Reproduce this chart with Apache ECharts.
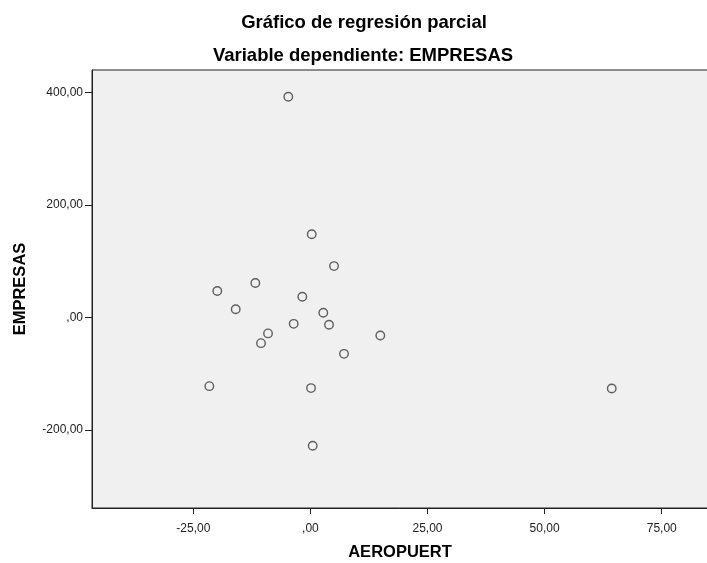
<!DOCTYPE html>
<html>
<head>
<meta charset="utf-8">
<script src="https://cdn.jsdelivr.net/npm/echarts@6/dist/echarts.min.js"></script>
<style>
  html, body { margin: 0; padding: 0; background: #fff; }
  #chart { width: 707px; height: 563px; }
</style>
</head>
<body>
<div id="chart"></div>
<script>
// Partial regression residuals: AEROPUERT (x) vs EMPRESAS (y)
const aeropuert = [-4.72, 0.28, 5.04, -11.76, -19.88, -1.73, -15.95, 2.75, -3.57, 3.97,
                   -9.05, 14.92, -10.55, 7.17, -21.58, 0.13, 0.49, 64.33];
const empresas  = [392.1, 147.7, 91.2, 61.1, 46.9, 36.8, 14.4, 8.3, -11.4, -13.1,
                   -28.4, -32.0, -45.7, -64.7, -122.1, -125.6, -228.1, -126.2];

const xTicks = [-25, 0, 25, 50, 75];
const yTicks = [-200, 0, 200, 400];

const titleText = 'Gráfico de regresión parcial';
const subtitleText = 'Variable dependiente: EMPRESAS';
const xName = 'AEROPUERT';
const yName = 'EMPRESAS';

// Spanish number style: comma decimal, no leading zero (",00")
function fmt(v) {
  let s = Math.abs(v).toFixed(2).replace('.', ',');
  if (s.startsWith('0,')) s = s.slice(1);
  return (v < 0 ? '-' : '') + s;
}

const points = aeropuert.map((x, i) => [x, empresas[i]]);
const font = 'Liberation Sans, Arial, sans-serif';

const chart = echarts.init(document.getElementById('chart'), null, { renderer: 'canvas' });
chart.setOption({
  animation: false,
  backgroundColor: '#ffffff',
  textStyle: { fontFamily: font },
  title: [
    {
      text: titleText, left: 359, top: 8, textAlign: 'center',
      textStyle: { fontSize: 18.5, fontWeight: 'bold', color: '#000', fontFamily: font }
    },
    {
      text: subtitleText, left: 358, top: 41, textAlign: 'center',
      textStyle: { fontSize: 18.5, fontWeight: 'bold', color: '#000', fontFamily: font }
    }
  ],
  grid: {
    show: true, left: 92, right: -1, top: 70, bottom: 55,
    outerBoundsMode: 'none', containLabel: false,
    backgroundColor: '#f0f0f0', borderColor: '#222', borderWidth: 1
  },
  xAxis: {
    type: 'value', min: -46.63, max: 84.88,
    name: xName, nameLocation: 'middle', nameGap: 36,
    nameTextStyle: { fontSize: 16.5, fontWeight: 'bold', color: '#000' },
    axisLine: { show: true, onZero: false, lineStyle: { color: '#222', width: 1 } },
    axisTick: { show: true, length: 6, customValues: xTicks, lineStyle: { color: '#222' } },
    axisLabel: { customValues: xTicks, formatter: fmt, fontSize: 12, color: '#222', margin: 15 },
    splitLine: { show: false }
  },
  yAxis: {
    type: 'value', min: -338.6, max: 439.6,
    name: yName, nameLocation: 'middle', nameGap: 63, nameRotate: 90,
    nameTextStyle: { fontSize: 16.5, fontWeight: 'bold', color: '#000' },
    axisLine: { show: true, onZero: false, lineStyle: { color: '#222', width: 1 } },
    axisTick: { show: true, length: 7, customValues: yTicks, lineStyle: { color: '#222' } },
    axisLabel: { customValues: yTicks, formatter: fmt, fontSize: 12, color: '#222', margin: 9 },
    splitLine: { show: false }
  },
  series: [{
    type: 'scatter',
    data: points,
    symbol: 'circle',
    symbolSize: 8.5,
    itemStyle: { color: 'rgba(0,0,0,0)', borderColor: '#3a3a3a', borderWidth: 1.4 }
  }]
});
</script>
</body>
</html>
